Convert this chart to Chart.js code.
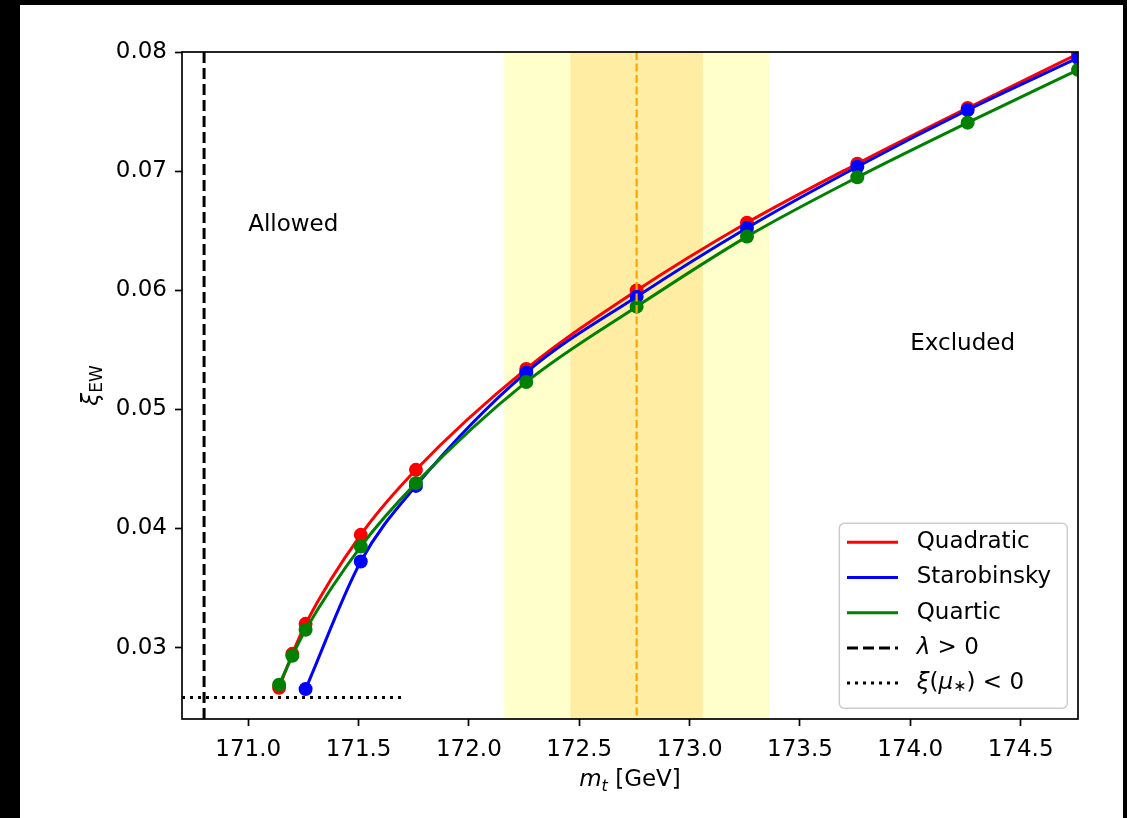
<!DOCTYPE html>
<html>
<head>
<meta charset="utf-8">
<script src="https://cdn.jsdelivr.net/npm/chart.js@4.4.1/dist/chart.umd.min.js"></script>
<style>
  html, body { margin: 0; padding: 0; background: #000; }
  body { width: 1127px; height: 818px; position: relative; overflow: hidden; }
  #frame { position: absolute; left: 20px; top: 5px; width: 1103px; height: 813px; background: #fff; }
  canvas { display: block; }
</style>
</head>
<body>
<div id="frame"><canvas id="xiChart" width="1103" height="813"></canvas></div>
<script>
"use strict";

// top mass points [GeV] and fitted xi_EW for each inflation model
const mtQuadratic = [171.14, 171.20, 171.26, 171.51, 171.76, 172.26, 172.76, 173.26, 173.76, 174.26, 174.76];
const xiQuadratic = [0.02662, 0.02947, 0.03199, 0.03946, 0.04492, 0.05339, 0.05997, 0.06566, 0.07062, 0.07530, 0.07985];

const mtStarobinsky = [171.26, 171.51, 171.76, 172.26, 172.76, 173.26, 173.76, 174.26, 174.76];
const xiStarobinsky = [0.02651, 0.03722, 0.04357, 0.05310, 0.05946, 0.06523, 0.07037, 0.07513, 0.07950];

const mtQuartic = [171.14, 171.20, 171.26, 171.51, 171.76, 172.26, 172.76, 173.26, 173.76, 174.26, 174.76];
const xiQuartic = [0.02687, 0.02930, 0.03149, 0.03848, 0.04380, 0.05230, 0.05862, 0.06450, 0.06948, 0.07407, 0.07850];

const xTicks = [171.0, 171.5, 172.0, 172.5, 173.0, 173.5, 174.0, 174.5];
const yTicks = [0.03, 0.04, 0.05, 0.06, 0.07, 0.08];

// measured top mass with 1 and 2 sigma bands
const mtCentral = 172.76;
const mtOneSigma = [172.46, 173.06];
const mtTwoSigma = [172.16, 173.36];

// lambda > 0 bound and xi(mu*) < 0 line
const lambdaBound = 170.8;
const xiNegValue = 0.0258;
const xiNegMtMax = 171.7;

const FONT = "'DejaVu Sans', sans-serif";

function toPoints(xs, ys) {
  let pts = [];
  for (let i = 0; i < xs.length; i++) {
    pts.push({ x: xs[i], y: ys[i] });
  }
  return pts;
}

function makeSeries(label, color, xs, ys, order) {
  return {
    label: label,
    data: toPoints(xs, ys),
    showLine: true,
    borderColor: color,
    backgroundColor: color,
    borderWidth: 3,
    pointRadius: 7,
    pointBorderWidth: 0,
    pointBackgroundColor: color,
    cubicInterpolationMode: "monotone",
    order: order,
  };
}

// draw a row of text pieces with their own font / vertical shift
function runsWidth(ctx, runs) {
  let w = 0;
  for (const r of runs) {
    ctx.font = r.font;
    w += ctx.measureText(r.text).width;
  }
  return w;
}

function drawRuns(ctx, runs, x, y) {
  let cx = x;
  for (const r of runs) {
    ctx.font = r.font;
    ctx.fillText(r.text, cx, y + (r.dy || 0));
    cx += ctx.measureText(r.text).width;
  }
}

const big = "23px " + FONT;
const bigIt = "italic 23px " + FONT;
const sub = "16px " + FONT;
const subIt = "italic 16px " + FONT;

const legendItems = [
  { runs: [{ text: "Quadratic", font: big }], color: "#ff0000", dash: [] },
  { runs: [{ text: "Starobinsky", font: big }], color: "#0000ff", dash: [] },
  { runs: [{ text: "Quartic", font: big }], color: "#008000", dash: [] },
  { runs: [{ text: "\u03bb", font: bigIt }, { text: " > 0", font: big }], color: "#000", dash: [11, 5] },
  {
    runs: [
      { text: "\u03be", font: bigIt },
      { text: "(", font: big },
      { text: "\u03bc", font: bigIt },
      { text: "\u2217", font: sub, dy: 4 },
      { text: ")", font: big },
      { text: " < 0", font: big },
    ],
    color: "#000",
    dash: [3, 5],
  },
];

const decorations = {
  id: "decorations",
  beforeDatasetsDraw(chart) {
    const { ctx, chartArea: a, scales } = chart;
    const x = scales.x;
    const y = scales.y;
    ctx.save();
    ctx.beginPath();
    ctx.rect(a.left, a.top, a.right - a.left, a.bottom - a.top);
    ctx.clip();

    // 2 sigma and 1 sigma bands
    ctx.fillStyle = "rgba(255, 255, 0, 0.2)";
    let l = x.getPixelForValue(mtTwoSigma[0]);
    let r = x.getPixelForValue(mtTwoSigma[1]);
    ctx.fillRect(l, a.top, r - l, a.bottom - a.top);
    ctx.fillStyle = "rgba(255, 165, 0, 0.2)";
    l = x.getPixelForValue(mtOneSigma[0]);
    r = x.getPixelForValue(mtOneSigma[1]);
    ctx.fillRect(l, a.top, r - l, a.bottom - a.top);

    ctx.strokeStyle = "#000";
    ctx.lineWidth = 3;
    ctx.setLineDash([11, 5]);
    const lx = x.getPixelForValue(lambdaBound);
    ctx.beginPath();
    ctx.moveTo(lx, a.top);
    ctx.lineTo(lx, a.bottom);
    ctx.stroke();

    ctx.setLineDash([3, 5]);
    const ny = y.getPixelForValue(xiNegValue);
    ctx.beginPath();
    ctx.moveTo(a.left, ny);
    ctx.lineTo(x.getPixelForValue(xiNegMtMax), ny);
    ctx.stroke();
    ctx.restore();
  },
  afterDatasetsDraw(chart) {
    const { ctx, chartArea: a, scales } = chart;
    const x = scales.x;
    const y = scales.y;
    ctx.save();

    // central top mass
    ctx.strokeStyle = "#ffa500";
    ctx.lineWidth = 2.2;
    ctx.setLineDash([8, 3.5]);
    const cx = x.getPixelForValue(mtCentral);
    ctx.beginPath();
    ctx.moveTo(cx, a.top);
    ctx.lineTo(cx, a.bottom);
    ctx.stroke();
    ctx.setLineDash([]);

    // axes frame
    ctx.strokeStyle = "#000";
    ctx.lineWidth = 1.7;
    ctx.strokeRect(a.left, a.top, a.right - a.left, a.bottom - a.top);

    // region labels
    ctx.fillStyle = "#000";
    ctx.textBaseline = "alphabetic";
    ctx.textAlign = "left";
    ctx.font = big;
    ctx.fillText("Allowed", x.getPixelForValue(171.0), y.getPixelForValue(0.065));
    ctx.fillText("Excluded", x.getPixelForValue(174.0), y.getPixelForValue(0.055));

    // x axis title: m_t [GeV]
    const xRuns = [
      { text: "m", font: bigIt },
      { text: "t", font: subIt, dy: 5 },
      { text: " [GeV]", font: big },
    ];
    const xw = runsWidth(ctx, xRuns);
    drawRuns(ctx, xRuns, (a.left + a.right) / 2 - xw / 2, a.bottom + 67);

    // y axis title: xi_EW
    const yRuns = [
      { text: "\u03be", font: bigIt },
      { text: "EW", font: "17px " + FONT, dy: 4.5 },
    ];
    const yw = runsWidth(ctx, yRuns);
    ctx.save();
    ctx.translate(77.5, (a.top + a.bottom) / 2);
    ctx.rotate(-Math.PI / 2);
    drawRuns(ctx, yRuns, -yw / 2, 0);
    ctx.restore();

    // legend
    const bw = 228;
    const bh = 185;
    const bx = a.right - 10.7 - bw;
    const by = a.bottom - 10.7 - bh;
    ctx.beginPath();
    ctx.roundRect(bx, by, bw, bh, 5);
    ctx.fillStyle = "rgba(255, 255, 255, 0.8)";
    ctx.fill();
    ctx.strokeStyle = "#cccccc";
    ctx.lineWidth = 1.5;
    ctx.stroke();

    ctx.textBaseline = "middle";
    for (let i = 0; i < legendItems.length; i++) {
      const item = legendItems[i];
      const ry = by + 19 + 35.2 * i;
      ctx.strokeStyle = item.color;
      ctx.lineWidth = 3;
      ctx.setLineDash(item.dash);
      ctx.beginPath();
      ctx.moveTo(bx + 7.7, ry);
      ctx.lineTo(bx + 58.7, ry);
      ctx.stroke();
      ctx.setLineDash([]);
      ctx.fillStyle = "#000";
      drawRuns(ctx, item.runs, bx + 77.4, ry);
    }
    ctx.restore();
  },
};

const tickFont = { family: FONT, size: 23 };

const config = {
  type: "scatter",
  data: {
    datasets: [
      makeSeries("Quadratic", "#ff0000", mtQuadratic, xiQuadratic, 3),
      makeSeries("Starobinsky", "#0000ff", mtStarobinsky, xiStarobinsky, 2),
      makeSeries("Quartic", "#008000", mtQuartic, xiQuartic, 1),
    ],
  },
  options: {
    responsive: false,
    animation: false,
    devicePixelRatio: 1,
    events: [],
    layout: { padding: { left: 0, top: 47, right: 45, bottom: 0 } },
    plugins: {
      legend: { display: false },
      tooltip: { enabled: false },
    },
    scales: {
      x: {
        type: "linear",
        min: 170.7,
        max: 174.76,
        afterBuildTicks: (scale) => {
          scale.ticks = xTicks.map((v) => ({ value: v }));
        },
        afterFit: (scale) => {
          scale.height = 99;
        },
        ticks: {
          callback: (v) => v.toFixed(1),
          font: tickFont,
          color: "#000",
          padding: 10,
          maxRotation: 0,
          autoSkip: false,
        },
        grid: {
          drawOnChartArea: false,
          drawTicks: true,
          tickLength: 7,
          tickColor: "#000",
          tickWidth: 1.7,
        },
        border: { display: false },
      },
      y: {
        type: "linear",
        min: 0.024,
        max: 0.08,
        afterBuildTicks: (scale) => {
          scale.ticks = yTicks.map((v) => ({ value: v }));
        },
        afterFit: (scale) => {
          scale.width = 162;
        },
        ticks: {
          callback: (v) => v.toFixed(2),
          font: tickFont,
          color: "#000",
          padding: 8,
          autoSkip: false,
        },
        grid: {
          drawOnChartArea: false,
          drawTicks: true,
          tickLength: 7,
          tickColor: "#000",
          tickWidth: 1.7,
        },
        border: { display: false },
      },
    },
  },
  plugins: [decorations],
};

new Chart(document.getElementById("xiChart"), config);
</script>
</body>
</html>
